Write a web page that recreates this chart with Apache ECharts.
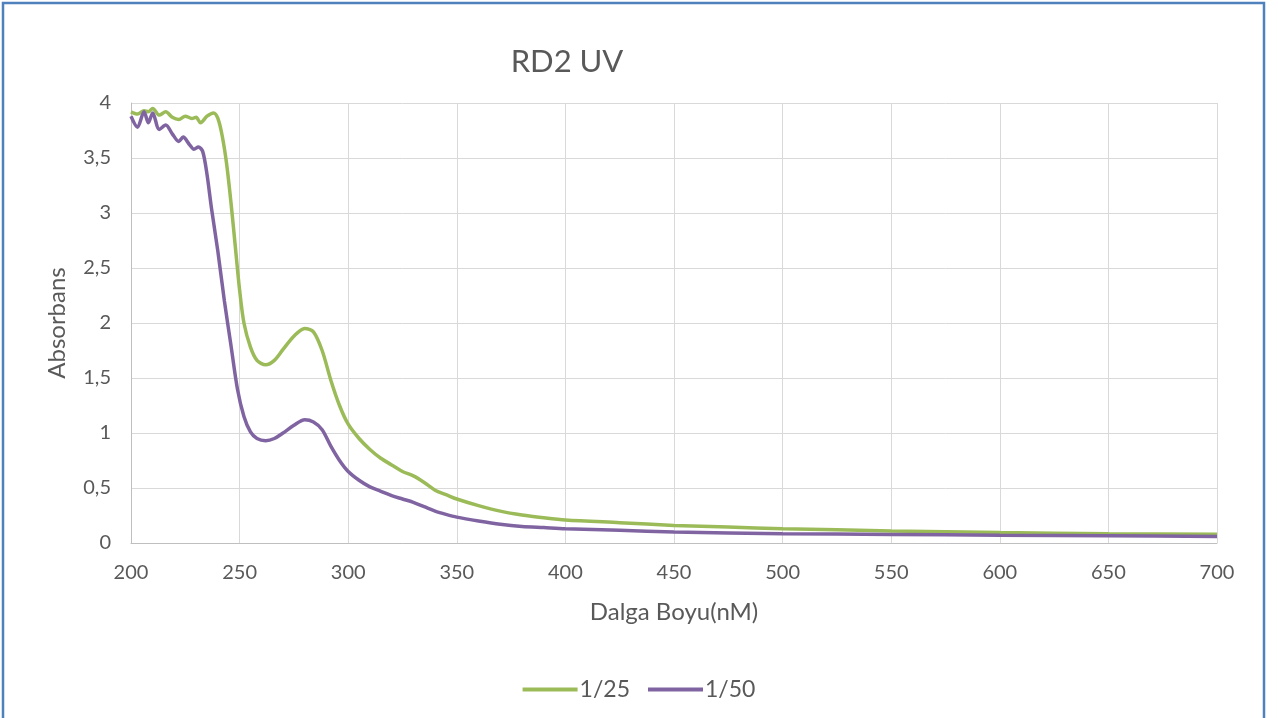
<!DOCTYPE html>
<html>
<head>
<meta charset="utf-8">
<script src="https://cdn.jsdelivr.net/npm/echarts@6/dist/echarts.min.js"></script>
<style>
html,body{margin:0;padding:0;background:#fff;}
#c{width:1278px;height:718px;}
</style>
</head>
<body>
<div id="c"></div>
<script>
const titleText = 'RD2 UV';
const xName = 'Dalga Boyu(nM)';
const yName = 'Absorbans';
const seriesNames = ['1/25', '1/50'];

const greenX = [200,203,206,208,210,213,216,219,222,225,228,230,232,235,238,240,242,244,246,248,250,252,255,258,262,266,270,275,280,284,288,292,296,300,305,310,315,320,325,330,335,340,345,350,360,370,380,390,400,425,450,475,500,550,600,650,700];
const greenY = [3.92,3.90,3.93,3.92,3.95,3.89,3.92,3.87,3.85,3.88,3.86,3.87,3.82,3.88,3.91,3.86,3.70,3.45,3.10,2.70,2.30,2.00,1.78,1.66,1.62,1.66,1.76,1.88,1.95,1.92,1.75,1.48,1.25,1.08,0.95,0.85,0.77,0.71,0.65,0.61,0.55,0.48,0.44,0.40,0.34,0.29,0.255,0.23,0.21,0.185,0.16,0.145,0.13,0.11,0.095,0.085,0.08];

const purpleX = [200,203,206,208,210,213,216,219,222,224,227,229,231,233,235,237,240,243,246,249,252,255,258,262,266,270,275,280,284,288,292,296,300,305,310,315,320,325,330,335,340,345,350,360,370,380,390,400,425,450,500,550,600,650,700];
const purpleY = [3.88,3.78,3.92,3.82,3.91,3.76,3.80,3.72,3.65,3.69,3.62,3.58,3.60,3.56,3.35,3.05,2.65,2.20,1.80,1.40,1.15,1.01,0.95,0.93,0.95,1.00,1.07,1.12,1.10,1.03,0.88,0.75,0.65,0.57,0.51,0.47,0.43,0.40,0.37,0.33,0.29,0.26,0.235,0.20,0.17,0.15,0.14,0.13,0.115,0.10,0.085,0.078,0.07,0.065,0.06];

const xTicks = {min: 200, max: 700, interval: 50};
const yTicks = {min: 0, max: 4, interval: 0.5};

const pair = (xs, ys) => xs.map((x, i) => [x, ys[i]]);
const fmt = v => String(v).replace('.', ',');

const chart = echarts.init(document.getElementById('c'), null, {renderer: 'canvas'});
const textColor = '#595959';
const font = 'Lato, "Open Sans", sans-serif';

chart.setOption({
  animation: false,
  backgroundColor: '#fff',
  textStyle: {fontFamily: font},
  graphic: [{
    type: 'rect',
    shape: {x: 3, y: 3, width: 1261, height: 740},
    style: {fill: 'none', stroke: '#4f81bd', lineWidth: 2.5},
    silent: true
  }],
  title: {
    text: titleText,
    left: 562, top: 41,
    textAlign: 'center',
    textStyle: {fontFamily: font, fontSize: 31, fontWeight: 'normal', color: textColor}
  },
  legend: {
    data: seriesNames,
    left: 'center', top: 673,
    itemWidth: 55, itemHeight: 4, itemGap: 18,
    icon: 'rect',
    textStyle: {fontFamily: font, fontSize: 23, color: textColor, padding: [0,0,0,-3]}
  },
  grid: {left: 131, right: 61, top: 103, bottom: 175, containLabel: false},
  xAxis: {
    type: 'value',
    min: xTicks.min, max: xTicks.max, interval: xTicks.interval,
    name: xName, nameLocation: 'middle', nameGap: 57,
    nameTextStyle: {fontFamily: font, fontSize: 24, color: textColor},
    axisLine: {show: true, lineStyle: {color: '#bfbfbf', width: 1}},
    axisTick: {show: false},
    axisLabel: {fontFamily: font, fontSize: 20, color: textColor, margin: 20},
    splitLine: {show: true, lineStyle: {color: '#d9d9d9', width: 1}}
  },
  yAxis: {
    type: 'value',
    min: yTicks.min, max: yTicks.max, interval: yTicks.interval,
    name: yName, nameLocation: 'middle', nameGap: 62, nameRotate: 90,
    nameTextStyle: {fontFamily: font, fontSize: 24, color: textColor},
    axisLine: {show: true, lineStyle: {color: '#bfbfbf', width: 1}},
    axisTick: {show: false},
    axisLabel: {fontFamily: font, fontSize: 20, color: textColor, margin: 20, formatter: fmt},
    splitLine: {show: true, lineStyle: {color: '#d9d9d9', width: 1}}
  },
  series: [
    {
      name: seriesNames[0], type: 'line', data: pair(greenX, greenY),
      smooth: 0.3, showSymbol: false, symbol: 'none',
      lineStyle: {color: '#9bbb59', width: 3.5}, itemStyle: {color: '#9bbb59'}
    },
    {
      name: seriesNames[1], type: 'line', data: pair(purpleX, purpleY),
      smooth: 0.3, showSymbol: false, symbol: 'none',
      lineStyle: {color: '#8064a2', width: 3.5}, itemStyle: {color: '#8064a2'}
    }
  ]
});
</script>
</body>
</html>
